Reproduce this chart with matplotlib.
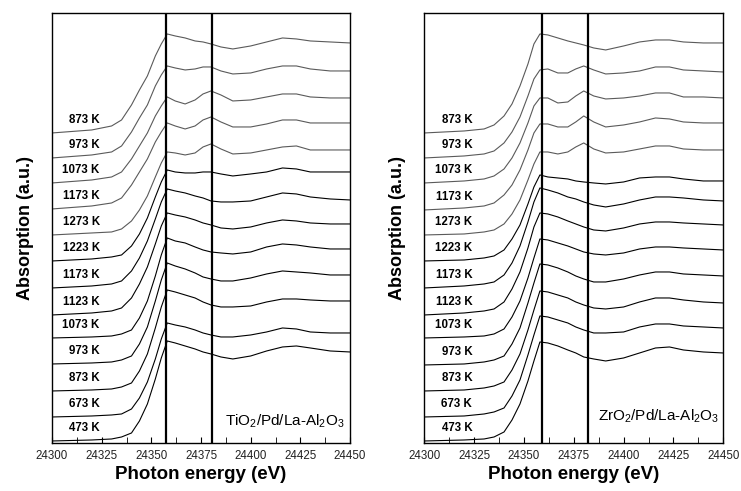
import matplotlib.pyplot as plt
from matplotlib.ticker import MultipleLocator

plt.rcParams['font.family'] = ['Liberation Sans', 'DejaVu Sans']
plt.rcParams['mathtext.default'] = 'regular'

# energia (eV) comum a todos os espectros
energy = [24300, 24320, 24330, 24335, 24340, 24344, 24348, 24352, 24355,
          24358, 24362, 24367, 24372, 24376, 24380, 24385, 24391, 24400,
          24408, 24416, 24423, 24430, 24440, 24450]

temps = ['873 K', '973 K', '1073 K', '1173 K', '1273 K', '1223 K', '1173 K',
         '1123 K', '1073 K', '973 K', '873 K', '673 K', '473 K']

# espectros TiO2/Pd/La-Al2O3 (de cima para baixo, ja empilhados)
tio2 = [
    [3.10, 3.13, 3.17, 3.23, 3.38, 3.53, 3.67, 3.87, 3.99, 4.09, 4.07, 4.05, 4.02, 4.01, 3.99, 3.96, 3.94, 3.97, 4.01, 4.05, 4.04, 4.02, 4.01, 4.00],
    [2.85, 2.88, 2.91, 2.97, 3.11, 3.25, 3.38, 3.57, 3.68, 3.77, 3.75, 3.73, 3.74, 3.76, 3.76, 3.72, 3.69, 3.70, 3.74, 3.77, 3.77, 3.74, 3.72, 3.72],
    [2.60, 2.63, 2.66, 2.71, 2.84, 2.97, 3.10, 3.27, 3.37, 3.46, 3.42, 3.39, 3.43, 3.49, 3.52, 3.48, 3.42, 3.43, 3.46, 3.49, 3.49, 3.46, 3.45, 3.45],
    [2.34, 2.37, 2.40, 2.45, 2.58, 2.71, 2.84, 3.01, 3.11, 3.20, 3.17, 3.14, 3.17, 3.23, 3.26, 3.21, 3.16, 3.16, 3.19, 3.23, 3.23, 3.20, 3.20, 3.20],
    [2.08, 2.10, 2.11, 2.14, 2.22, 2.33, 2.47, 2.66, 2.80, 2.91, 2.90, 2.88, 2.90, 2.96, 2.99, 2.94, 2.89, 2.90, 2.93, 2.96, 2.97, 2.93, 2.93, 2.93],
    [1.82, 1.84, 1.86, 1.88, 1.97, 2.09, 2.25, 2.46, 2.61, 2.73, 2.71, 2.70, 2.70, 2.71, 2.71, 2.69, 2.67, 2.69, 2.71, 2.75, 2.74, 2.71, 2.71, 2.71],
    [1.55, 1.57, 1.59, 1.62, 1.72, 1.85, 2.02, 2.24, 2.41, 2.54, 2.52, 2.50, 2.47, 2.45, 2.42, 2.41, 2.41, 2.42, 2.46, 2.50, 2.49, 2.46, 2.44, 2.43],
    [1.28, 1.30, 1.32, 1.35, 1.45, 1.59, 1.76, 1.99, 2.17, 2.30, 2.28, 2.26, 2.23, 2.20, 2.18, 2.15, 2.14, 2.16, 2.20, 2.23, 2.22, 2.20, 2.19, 2.19],
    [1.05, 1.06, 1.07, 1.09, 1.13, 1.25, 1.42, 1.67, 1.88, 2.05, 2.02, 2.00, 1.96, 1.93, 1.91, 1.90, 1.89, 1.91, 1.96, 1.99, 1.98, 1.96, 1.94, 1.94],
    [0.79, 0.80, 0.81, 0.83, 0.87, 0.99, 1.16, 1.42, 1.63, 1.80, 1.77, 1.74, 1.70, 1.66, 1.64, 1.62, 1.62, 1.65, 1.69, 1.72, 1.71, 1.70, 1.68, 1.68],
    [0.52, 0.53, 0.54, 0.56, 0.60, 0.72, 0.89, 1.15, 1.36, 1.53, 1.51, 1.48, 1.45, 1.41, 1.38, 1.36, 1.36, 1.37, 1.41, 1.44, 1.44, 1.43, 1.42, 1.42],
    [0.26, 0.27, 0.28, 0.29, 0.34, 0.45, 0.61, 0.84, 1.04, 1.20, 1.18, 1.16, 1.13, 1.10, 1.08, 1.06, 1.06, 1.08, 1.11, 1.15, 1.14, 1.11, 1.10, 1.10],
    [0.02, 0.03, 0.04, 0.06, 0.10, 0.22, 0.39, 0.64, 0.85, 1.02, 1.00, 0.97, 0.94, 0.91, 0.89, 0.86, 0.84, 0.87, 0.92, 0.96, 0.97, 0.95, 0.92, 0.91],
]

# espectros ZrO2/Pd/La-Al2O3
zro2 = [
    [3.10, 3.12, 3.14, 3.18, 3.27, 3.39, 3.57, 3.79, 3.99, 4.09, 4.08, 4.05, 4.02, 4.00, 3.98, 3.95, 3.93, 3.97, 4.01, 4.03, 4.03, 4.01, 4.00, 4.00],
    [2.85, 2.87, 2.89, 2.92, 3.00, 3.11, 3.26, 3.47, 3.64, 3.73, 3.74, 3.70, 3.70, 3.74, 3.77, 3.73, 3.69, 3.70, 3.72, 3.76, 3.76, 3.73, 3.72, 3.71],
    [2.60, 2.62, 2.64, 2.67, 2.74, 2.85, 3.00, 3.20, 3.37, 3.45, 3.45, 3.40, 3.41, 3.47, 3.52, 3.47, 3.44, 3.45, 3.47, 3.50, 3.50, 3.46, 3.46, 3.45],
    [2.33, 2.35, 2.37, 2.40, 2.48, 2.58, 2.73, 2.93, 3.10, 3.19, 3.19, 3.16, 3.16, 3.21, 3.27, 3.21, 3.16, 3.18, 3.21, 3.25, 3.24, 3.21, 3.20, 3.20],
    [2.08, 2.09, 2.11, 2.13, 2.19, 2.29, 2.43, 2.63, 2.79, 2.91, 2.91, 2.89, 2.91, 2.96, 3.00, 2.94, 2.90, 2.91, 2.94, 2.97, 2.97, 2.94, 2.93, 2.93],
    [1.82, 1.83, 1.85, 1.87, 1.93, 2.04, 2.18, 2.39, 2.56, 2.68, 2.66, 2.65, 2.64, 2.62, 2.61, 2.60, 2.59, 2.61, 2.65, 2.66, 2.66, 2.64, 2.62, 2.62],
    [1.55, 1.57, 1.59, 1.61, 1.68, 1.80, 1.97, 2.21, 2.41, 2.55, 2.53, 2.50, 2.46, 2.44, 2.41, 2.38, 2.36, 2.39, 2.43, 2.46, 2.46, 2.45, 2.43, 2.42],
    [1.28, 1.30, 1.32, 1.34, 1.41, 1.54, 1.71, 1.95, 2.16, 2.30, 2.29, 2.26, 2.22, 2.19, 2.16, 2.13, 2.12, 2.15, 2.19, 2.21, 2.21, 2.20, 2.19, 2.18],
    [1.05, 1.06, 1.07, 1.09, 1.14, 1.26, 1.42, 1.65, 1.85, 2.04, 2.03, 2.00, 1.97, 1.94, 1.91, 1.89, 1.88, 1.90, 1.94, 1.96, 1.96, 1.95, 1.94, 1.93],
    [0.78, 0.79, 0.81, 0.83, 0.87, 0.99, 1.15, 1.40, 1.60, 1.79, 1.78, 1.75, 1.71, 1.67, 1.64, 1.61, 1.61, 1.64, 1.68, 1.71, 1.71, 1.69, 1.68, 1.67],
    [0.52, 0.53, 0.55, 0.57, 0.61, 0.73, 0.89, 1.13, 1.33, 1.52, 1.51, 1.48, 1.45, 1.41, 1.38, 1.35, 1.34, 1.36, 1.41, 1.45, 1.45, 1.43, 1.41, 1.40],
    [0.26, 0.27, 0.29, 0.31, 0.35, 0.47, 0.63, 0.88, 1.08, 1.27, 1.26, 1.23, 1.20, 1.16, 1.13, 1.10, 1.10, 1.11, 1.16, 1.19, 1.19, 1.17, 1.16, 1.15],
    [0.02, 0.03, 0.04, 0.06, 0.11, 0.23, 0.39, 0.62, 0.82, 1.01, 1.00, 0.97, 0.93, 0.90, 0.86, 0.84, 0.82, 0.85, 0.90, 0.95, 0.96, 0.93, 0.91, 0.90],
]

# linhas verticais de referencia (eV)
tio2_lines = [24357.5, 24380.4]
zro2_lines = [24359.2, 24382.0]


def painel(ax, espectros, linhas, nome, nome_x, nome_y):
    for i, y in enumerate(espectros):
        cor = '#5a5a5a' if i < 5 else 'black'
        ax.plot(energy, y, color=cor, lw=0.8)
        # rotulo de temperatura logo acima da linha de base
        ax.text(24324, y[0] + 0.13, temps[i], ha='right', va='center',
                fontsize=8.3, fontweight='bold')
    for xv in linhas:
        ax.axvline(xv, color='black', lw=1.6)
    ax.text(nome_x, nome_y, nome, transform=ax.transAxes, ha='right',
            va='center', fontsize=11)
    ax.set_xlim(24300, 24450)
    ax.set_ylim(0, 4.30)
    ax.xaxis.set_major_locator(MultipleLocator(25))
    ax.xaxis.set_minor_locator(MultipleLocator(12.5))
    ax.tick_params(axis='x', which='both', direction='in', length=4,
                   top=False, labelsize=8.3, pad=5, labelcolor='#222222')
    ax.tick_params(axis='y', left=False, labelleft=False)
    for s in ax.spines.values():
        s.set_linewidth(1.0)
    ax.set_xlabel('Photon energy (eV)', fontsize=13.5, fontweight='bold',
                  labelpad=3)
    ax.set_ylabel('Absorption (a.u.)', fontsize=13, fontweight='bold',
                  labelpad=13)


fig = plt.figure(figsize=(7.41, 4.91), dpi=100)
ax1 = fig.add_axes([0.0702, 0.0978, 0.4022, 0.8758])
ax2 = fig.add_axes([0.5726, 0.0978, 0.4035, 0.8758])

painel(ax1, tio2, tio2_lines, 'TiO$_2$/Pd/La-Al$_2$O$_3$', 0.983, 0.051)
painel(ax2, zro2, zro2_lines, 'ZrO$_2$/Pd/La-Al$_2$O$_3$', 0.987, 0.061)

fig.savefig('out.png', dpi=100)
